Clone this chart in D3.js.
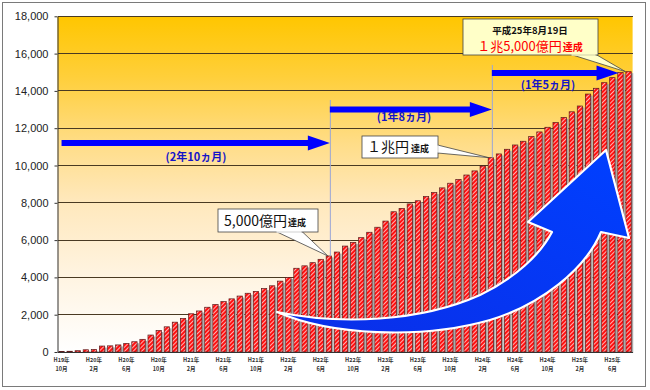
<!DOCTYPE html>
<html><head><meta charset="utf-8">
<script src="https://cdn.jsdelivr.net/npm/d3@7"></script>
<style>
html,body{margin:0;padding:0;background:#fff;}
svg{display:block;}
</style>
</head><body>
<svg id="c" width="650" height="390"></svg>
<script>
// ---- data ----
const months = [
 "H19-10","H19-11","H19-12",
 "H20-01","H20-02","H20-03","H20-04","H20-05","H20-06","H20-07","H20-08","H20-09","H20-10","H20-11","H20-12",
 "H21-01","H21-02","H21-03","H21-04","H21-05","H21-06","H21-07","H21-08","H21-09","H21-10","H21-11","H21-12",
 "H22-01","H22-02","H22-03","H22-04","H22-05","H22-06","H22-07","H22-08","H22-09","H22-10","H22-11","H22-12",
 "H23-01","H23-02","H23-03","H23-04","H23-05","H23-06","H23-07","H23-08","H23-09","H23-10","H23-11","H23-12",
 "H24-01","H24-02","H24-03","H24-04","H24-05","H24-06","H24-07","H24-08","H24-09","H24-10","H24-11","H24-12",
 "H25-01","H25-02","H25-03","H25-04","H25-05","H25-06","H25-07","H25-08"
];
const values = [
 20,40,70,
 120,140,320,330,380,460,550,680,910,1150,1350,1600,
 1800,2050,2200,2400,2550,2700,2850,3000,3150,3250,3400,3550,
 3800,4000,4490,4620,4790,4970,5150,5360,5680,5880,6130,6420,
 6690,7020,7520,7700,7940,8110,8330,8550,8800,9050,9250,9490,
 9710,9970,10420,10620,10870,11100,11300,11550,11800,12050,12300,12580,
 12880,13190,13830,14140,14440,14710,14980,15030
];
const xTickCats = ["H19-10","H20-02","H20-06","H20-10","H21-02","H21-06","H21-10","H22-02","H22-06","H22-10","H23-02","H23-06","H23-10","H24-02","H24-06","H24-10","H25-02","H25-06"];
const xTickLine1 = ["H19年","H20年","H20年","H20年","H21年","H21年","H21年","H22年","H22年","H22年","H23年","H23年","H23年","H24年","H24年","H24年","H25年","H25年"];
const xTickLine2 = ["10月","2月","6月","10月","2月","6月","10月","2月","6月","10月","2月","6月","10月","2月","6月","10月","2月","6月"];
const yTicks = [0,2000,4000,6000,8000,10000,12000,14000,16000,18000];
const milestones = ["H22-07","H24-03","H25-08"];     // 5,000億円, 1兆円, 1兆5,000億円
const spanLabels = ["(2年10ヵ月)","(1年8ヵ月)","(1年5ヵ月)"];

// ---- drawing ----
const svg = d3.select("#c");
const JP = "'Noto Sans CJK JP','Noto Sans',sans-serif";
const LAT = "'Liberation Sans',Arial,'Noto Sans CJK JP',sans-serif";
const P = {l:57.5, r:632.6, t:16.3, b:352};

const defs = svg.append("defs");
const bg = defs.append("linearGradient").attr("id","bg").attr("x1",0).attr("y1",0).attr("x2",0).attr("y2",1);
[[0,"#FFC600"],[0.18,"#FFCF3A"],[0.38,"#FFDD88"],[0.55,"#FFE8BC"],[0.78,"#FFF4E2"],[1,"#FFFFFF"]]
  .forEach(s=>bg.append("stop").attr("offset",s[0]).attr("stop-color",s[1]));
const pat = defs.append("pattern").attr("id","hatch").attr("patternUnits","userSpaceOnUse")
  .attr("width",3).attr("height",3).attr("patternTransform","rotate(45)");
pat.append("rect").attr("width",3).attr("height",3).attr("fill","#FF1010");
pat.append("rect").attr("width",1).attr("height",3).attr("fill","#FFB0B0");
const ag = defs.append("linearGradient").attr("id","arrowg").attr("x1",0).attr("y1",1).attr("x2",1).attr("y2",0);
ag.append("stop").attr("offset",0).attr("stop-color","#0a2ee8");
ag.append("stop").attr("offset",1).attr("stop-color","#0040ff");

// outer frame
svg.append("rect").attr("x",2.5).attr("y",2.5).attr("width",643).attr("height",384)
  .attr("fill","#fff").attr("stroke","#7a7a7a").attr("stroke-width",1);

const x = d3.scaleBand().domain(months).range([P.l,P.r]).paddingInner(0.34).paddingOuter(0.17);
const y = d3.scaleLinear().domain([0,18000]).range([P.b,P.t]);

// plot background
svg.append("rect").attr("x",P.l).attr("y",P.t).attr("width",P.r-P.l).attr("height",P.b-P.t).attr("fill","url(#bg)");

// gridlines
svg.append("g").selectAll("line").data(yTicks.filter(d=>d>0)).join("line")
  .attr("x1",P.l).attr("x2",P.r).attr("y1",d=>y(d)).attr("y2",d=>y(d))
  .attr("stroke","#4a3a22").attr("stroke-width",1).attr("shape-rendering","crispEdges");

// bars: shadow + hatched bar
const gb = svg.append("g");
gb.selectAll("rect.sh").data(values).join("rect").attr("class","sh")
  .attr("x",(d,i)=>x(months[i])+2).attr("y",d=>y(d)+1.5)
  .attr("width",x.bandwidth()).attr("height",d=>Math.max(0,P.b-y(d)-1.5))
  .attr("fill","#a8a8a8");
gb.selectAll("rect.b").data(values).join("rect").attr("class","b")
  .attr("x",(d,i)=>x(months[i])).attr("y",d=>y(d))
  .attr("width",x.bandwidth()).attr("height",d=>P.b-y(d))
  .attr("fill","url(#hatch)").attr("stroke","#5a1a1a").attr("stroke-width",0.7);

// y axis
const ya = svg.append("g").attr("transform",`translate(${P.l},0)`)
  .call(d3.axisLeft(y).tickValues(yTicks).tickFormat(d3.format(",")).tickSize(3).tickSizeOuter(0).tickPadding(6));
ya.select(".domain").attr("stroke","#333");
ya.selectAll(".tick line").attr("stroke","#333");
ya.selectAll("text").attr("font-family",LAT).attr("font-size","11px").attr("fill","#222");

// x axis
const xa = svg.append("g").attr("transform",`translate(0,${P.b})`)
  .call(d3.axisBottom(x).tickValues([]).tickSizeOuter(0));
xa.select(".domain").attr("stroke","#333");
const xl = svg.append("g");
xl.selectAll("text.l1").data(xTickCats).join("text").attr("class","l1")
  .attr("x",d=>x(d)+x.bandwidth()/2).attr("y",362)
  .attr("text-anchor","middle").attr("font-family",JP).attr("font-size","5.5px").attr("font-weight","bold").attr("fill","#333")
  .text((d,i)=>xTickLine1[i]);
xl.selectAll("text.l2").data(xTickCats).join("text").attr("class","l2")
  .attr("x",d=>x(d)+x.bandwidth()/2).attr("y",371)
  .attr("text-anchor","middle").attr("font-family",JP).attr("font-size","5.5px").attr("font-weight","bold").attr("fill","#333")
  .text((d,i)=>xTickLine2[i]);

// helpers
const cx = c => x(c)+x.bandwidth()/2;
const mVals = milestones.map(m=>values[months.indexOf(m)]);

// vertical guide lines
[[0,100],[1,65]].forEach(([k,top])=>{
  svg.append("line").attr("x1",cx(milestones[k])+1.5).attr("x2",cx(milestones[k])+1.5)
    .attr("y1",top).attr("y2",y(mVals[k]))
    .attr("stroke","#9aa6d6").attr("stroke-width",1);
});

// horizontal arrows
const arrows = [
  {x0: cx(months[0]), x1: cx(milestones[0])+1, yc:143},
  {x0: cx(milestones[0])+1, x1: cx(milestones[1])+1, yc:109.5},
  {x0: cx(milestones[1])+1, x1: cx(milestones[2])-10, yc:73}
];
arrows.forEach(a=>{
  const hl=22, hh=7.5, sh=3;
  const pts=[[a.x0,a.yc-sh],[a.x1-hl,a.yc-sh],[a.x1-hl,a.yc-hh],[a.x1,a.yc],[a.x1-hl,a.yc+hh],[a.x1-hl,a.yc+sh],[a.x0,a.yc+sh]];
  svg.append("polygon").attr("points",pts.map(p=>p.join(",")).join(" ")).attr("fill","#0000FF");
});
const spanPos = [[196,161],[404,121],[548,89]];
spanLabels.forEach((t,i)=>{
  svg.append("text").attr("x",spanPos[i][0]).attr("y",spanPos[i][1]).attr("text-anchor","middle")
    .attr("font-family",JP).attr("font-size","11px").attr("font-weight","bold").attr("fill","#1414c8").text(t);
});

// big curved arrow
svg.append("path")
  .attr("d","M277,312 C340,325 420,322 480,295 C515,278 540,255 552,232 L528,222 L606,150 L629,238 L601,232 C585,270 540,305 490,320 C420,340 330,335 277,312 Z")
  .attr("fill","url(#arrowg)").attr("stroke","#fff").attr("stroke-width",2.2).attr("stroke-linejoin","round");

// callouts
function callout(box, ptr, fill){
  const g = svg.append("g");
  g.append("polygon").attr("points",ptr.map(p=>p.join(",")).join(" ")).attr("fill",fill).attr("stroke","#444").attr("stroke-width",0.8);
  g.append("rect").attr("x",box[0]).attr("y",box[1]).attr("width",box[2]-box[0]).attr("height",box[3]-box[1])
    .attr("fill",fill).attr("stroke","#444").attr("stroke-width",0.8);
  return g;
}
// 5,000億円
const p5 = [cx(milestones[0])-1, y(mVals[0])];
const g1 = callout([218,209,318,232], [[276,231.5],[p5[0],p5[1]],[302,231.5]], "#fff");
g1.append("line").attr("x1",276.5).attr("x2",301.5).attr("y1",232).attr("y2",232).attr("stroke","#fff").attr("stroke-width",1.4);
const t1 = g1.append("text").attr("x",224).attr("y",225.5).attr("font-family",JP).attr("fill","#111");
t1.append("tspan").attr("font-size","14px").text("5,000億円");
t1.append("tspan").attr("font-size","9px").attr("font-weight","bold").attr("dx",1).text("達成");
// 1兆円
const p10 = [cx(milestones[1])-2, y(mVals[1])];
const g2 = callout([362,136,438,158], [[437.5,145],[p10[0],p10[1]],[437.5,153]], "#fff");
g2.append("line").attr("x1",438).attr("x2",438).attr("y1",145.5).attr("y2",152.5).attr("stroke","#fff").attr("stroke-width",1.4);
const t2 = g2.append("text").attr("x",367).attr("y",152).attr("font-family",JP).attr("fill","#111");
t2.append("tspan").attr("font-size","14px").text("１兆円");
t2.append("tspan").attr("font-size","9px").attr("font-weight","bold").attr("dx",2).text("達成");
// 1兆5,000億円
const p15 = [cx(milestones[2])-3, y(mVals[2])];
const g3 = callout([463,19,598,55], [[571,54.5],[p15[0],p15[1]],[596,54.5]], "#FFFFC8");
g3.append("line").attr("x1",571.5).attr("x2",595.5).attr("y1",55).attr("y2",55).attr("stroke","#FFFFC8").attr("stroke-width",1.4);
g3.append("text").attr("x",530).attr("y",33.5).attr("text-anchor","middle").attr("font-family",JP)
  .attr("font-size","9.5px").attr("font-weight","bold").attr("fill","#111").text("平成25年8月19日");
const t3 = g3.append("text").attr("x",530).attr("y",51).attr("text-anchor","middle").attr("font-family",JP).attr("fill","#FF0000");
t3.append("tspan").attr("font-size","13px").text("１兆5,000億円");
t3.append("tspan").attr("font-size","10px").attr("font-weight","bold").attr("dx",1).text("達成");
</script>
</body></html>
